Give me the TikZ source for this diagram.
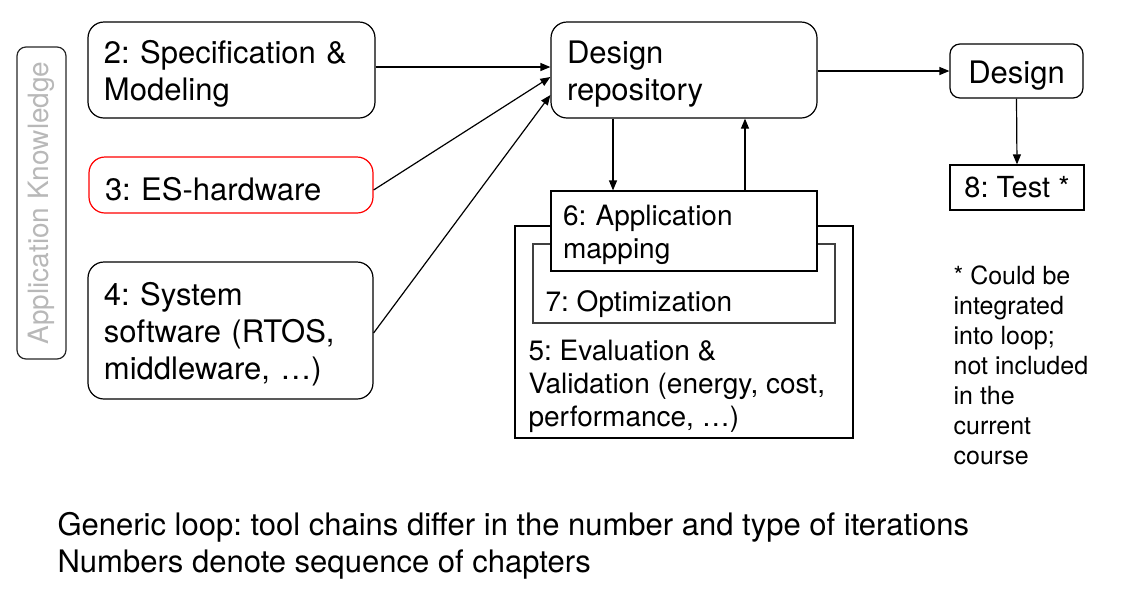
\documentclass[tikz,border=0pt]{standalone}
\usepackage{fontspec}
\setmainfont{TeX Gyre Heros}
\frenchspacing
\usetikzlibrary{arrows.meta}
\tikzset{
  chapter/.style={draw, line width=0.6pt, rounded corners=8pt, align=left, inner xsep=8pt, inner ysep=0pt, text height=15.5pt, font=\fontsize{15.5}{18.5}\selectfont},
  loopbox/.style={draw, line width=0.6pt, inner sep=0pt},
  looptext/.style={anchor=north west, inner sep=0pt, align=left, font=\fontsize{14}{16.5}\selectfont},
  remark/.style={anchor=north west, inner sep=0pt, align=left},
}
\begin{document}
\begin{tikzpicture}[x=0.5pt, y=-0.5pt, >={Triangle[length=5pt,width=4pt]}, line width=0.6pt]
\useasboundingbox (0,0) rectangle (1126,596);
% left column
\node[draw=black!85, rounded corners=4.5pt, rotate=90, minimum width=156pt, minimum height=24.5pt] (appknow) at (41.5,203) {};
\node[rotate=90, text=black!28, font=\fontsize{14}{16}\selectfont] (appknowtext) at (appknow.center) {Application Knowledge};
\node[chapter, text width=127.5pt, minimum height=48pt] (spec) at (231.5,70) {2: Specification \&\\Modeling};
\node[chapter, draw=red, text width=126pt, minimum height=28pt] (eshw) at (231,185) {3: ES-hardware};
\node[chapter, text width=126.5pt, minimum height=68.5pt] (syssw) at (230.5,330.5) {4: System\\software (RTOS,\\middleware, \ldots)};
% repository and loop
\node[chapter, text width=117pt, minimum height=48pt] (repo) at (684,70) {Design\\repository};
\node[loopbox, minimum width=169pt, minimum height=106pt] (evalbox) at (684,332) {};
\node[loopbox, draw=black!75, minimum width=151pt, minimum height=39.5pt] (optbox) at (684,283.5) {};
\node[loopbox, fill=white, minimum width=133pt, minimum height=40pt, align=left, text width=121pt, inner xsep=6pt, text height=14.5pt, font=\fontsize{14}{16.5}\selectfont] (mapbox) at (684,231) {6: Application\\mapping};
\node[looptext] (optlabel) at (545,290) {7: Optimization};
\node[looptext] (evallabel) at (528,339) {5: Evaluation \&\\Validation (energy, cost,\\performance, \ldots)};
% right column
\node[chapter, rounded corners=5pt, align=center, minimum width=66.5pt, minimum height=27pt] (design) at (1016.5,71) {Design};
\node[draw, minimum width=67pt, minimum height=22.5pt, font=\fontsize{14.5}{17}\selectfont] (test) at (1017,187.5) {8: Test *};
\node[remark, font=\fontsize{12.5}{15}\selectfont] (note) at (953,265) {* Could be\\integrated\\into loop;\\not included\\in the\\current\\course};
\node[remark, font=\fontsize{15.5}{18.5}\selectfont] (summary) at (57,512) {Generic loop: tool chains differ in the number and type of iterations\\Numbers denote sequence of chapters};
% connectors
\draw[->] ([yshift=1.5pt]spec.east) -- ([yshift=1.5pt]repo.west);
\draw[->] ([yshift=-2.5pt]eshw.east) -- ([yshift=-3.5pt]repo.west);
\draw[->] ([yshift=-1.25pt]syssw.east) -- ([yshift=-12.5pt]repo.west);
\draw[->] ([xshift=-35.5pt]repo.south) -- ([xshift=-35.5pt]mapbox.north);
\draw[->] ([xshift=30.5pt]mapbox.north) -- ([xshift=30.5pt]repo.south);
\draw[->] (repo.east |- design.west) -- (design.west);
\draw[->] (design.south) -- (test.north);
\end{tikzpicture}
\end{document}
